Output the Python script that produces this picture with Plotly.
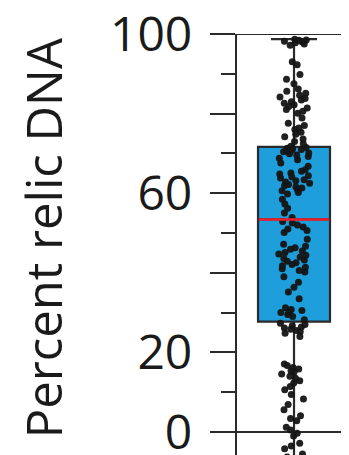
import numpy as np
import plotly.graph_objects as go

# ---- data ----
relic_dna_pct = [
    # below the lower quartile
    -7.0, -6.3, -5.5, -4.2, -3.5, -2.8, -1.0, -0.3, 0.5, 1.2,
    2.8, 3.4, 4.1, 5.6, 6.9, 8.3, 9.4, 10.6, 11.4, 12.3,
    12.9, 13.5, 14.0, 14.6, 15.0, 15.4, 15.8, 16.2, 16.7, 17.1,
    24.0, 24.8, 25.2, 25.5, 25.8, 26.1, 26.4, 26.7, 27.0, 27.3,
    # lower quartile to median
    28.2, 29.0, 29.5, 30.0, 30.2, 30.5, 30.8, 31.2, 33.5, 35.2,
    36.4, 37.6, 39.0, 40.2, 40.6, 41.0, 41.4, 41.8, 42.1, 42.5,
    42.9, 43.2, 43.6, 44.0, 44.4, 44.7, 45.1, 45.5, 45.9, 46.3,
    46.7, 47.2, 48.4, 50.1, 50.6, 51.0, 51.5, 52.0, 52.5, 52.9,
    # median to upper quartile
    53.9, 55.0, 56.2, 57.3, 58.5, 59.8, 60.2, 60.6, 60.9, 61.3,
    61.6, 61.9, 62.2, 62.5, 62.8, 63.1, 63.4, 63.8, 64.1, 64.4,
    64.8, 65.1, 65.5, 65.9, 66.8, 67.6, 68.4, 68.8, 69.2, 69.6,
    69.9, 70.1, 70.4, 70.6, 70.8, 71.0, 71.1, 71.2, 71.3, 71.5,
    # above the upper quartile
    71.8, 72.4, 73.0, 73.6, 74.2, 74.8, 75.3, 76.0, 76.4, 77.0,
    77.6, 78.9, 80.1, 80.6, 81.0, 81.4, 81.8, 82.2, 82.6, 83.0,
    83.4, 83.8, 84.2, 84.6, 85.1, 85.6, 86.2, 87.5, 88.6, 89.8,
    92.3, 93.0, 97.2, 97.5, 97.8, 98.0, 98.2, 98.4, 98.5, 98.7,
]
tick_values = [0, 20, 40, 60, 80, 100]
tick_labels = ["0", "20", "", "60", "", "100"]
y_title = "Percent relic DNA"
neighbor_edge = [69.6, 92.0]   # partial edge of the next panel

INK = "#2a2a2a"
FONT = "Open Sans"

fig = go.Figure()

fig.add_trace(go.Box(
    y=relic_dna_pct,
    x=[0] * len(relic_dna_pct),
    width=1.0,
    boxpoints="all",
    jitter=0.45,
    pointpos=0,
    whiskerwidth=0.64,
    fillcolor="#1E9FDB",
    line=dict(color=INK, width=2.2),
    marker=dict(color="#151515", size=7, symbol="circle", opacity=0.95),
    showlegend=False,
    hoverinfo="y",
))

med = float(np.median(relic_dna_pct))
fig.add_trace(go.Scatter(
    x=[-0.49, 0.49], y=[med, med], mode="lines",
    line=dict(color="#F0202A", width=2.6), showlegend=False, hoverinfo="skip",
))

# top frame line at 100 and dashed panel separator
fig.add_shape(type="line", xref="paper", x0=0, x1=1, y0=100, y1=100,
              line=dict(color=INK, width=2.2))
fig.add_shape(type="line", x0=0.68, x1=0.68, y0=98.5, y1=-6,
              line=dict(color=INK, width=2.4, dash="13px,17px"))
fig.add_shape(type="line", x0=0.75, x1=0.75, y0=neighbor_edge[0], y1=neighbor_edge[1],
              line=dict(color=INK, width=2))

# y-axis title placed as rotated text
fig.add_annotation(
    text=y_title, textangle=-90, xref="paper", yref="paper",
    x=-1.732, y=0.515, xanchor="center", yanchor="middle", showarrow=False,
    font=dict(size=49, family=FONT, color="#1a1a1a"),
)

fig.update_layout(
    width=341, height=447,
    margin=dict(l=229, r=0, t=26, b=0),
    paper_bgcolor="white", plot_bgcolor="white",
    font=dict(family=FONT, color="#1a1a1a"),
)
fig.update_xaxes(
    range=[-0.792, 0.764], showticklabels=False, showgrid=False,
    zeroline=False, showline=False, ticks="", fixedrange=True,
)
fig.update_yaxes(
    range=[-5.78, 100], autorange=False, automargin=False,
    showgrid=False, showline=True, linecolor=INK, linewidth=2.2,
    zeroline=True, zerolinecolor=INK, zerolinewidth=2.2,
    tickmode="array", tickvals=tick_values, ticktext=tick_labels,
    ticks="outside", ticklen=25, tickwidth=2.2, tickcolor=INK,
    minor=dict(dtick=10, tick0=0, ticks="outside", ticklen=14, tickwidth=2.2, tickcolor=INK),
    tickfont=dict(size=48, family=FONT, color="#1a1a1a"),
    ticklabelstandoff=8,
    ticklabeloverflow="allow",
)

fig.write_html("out.html")
